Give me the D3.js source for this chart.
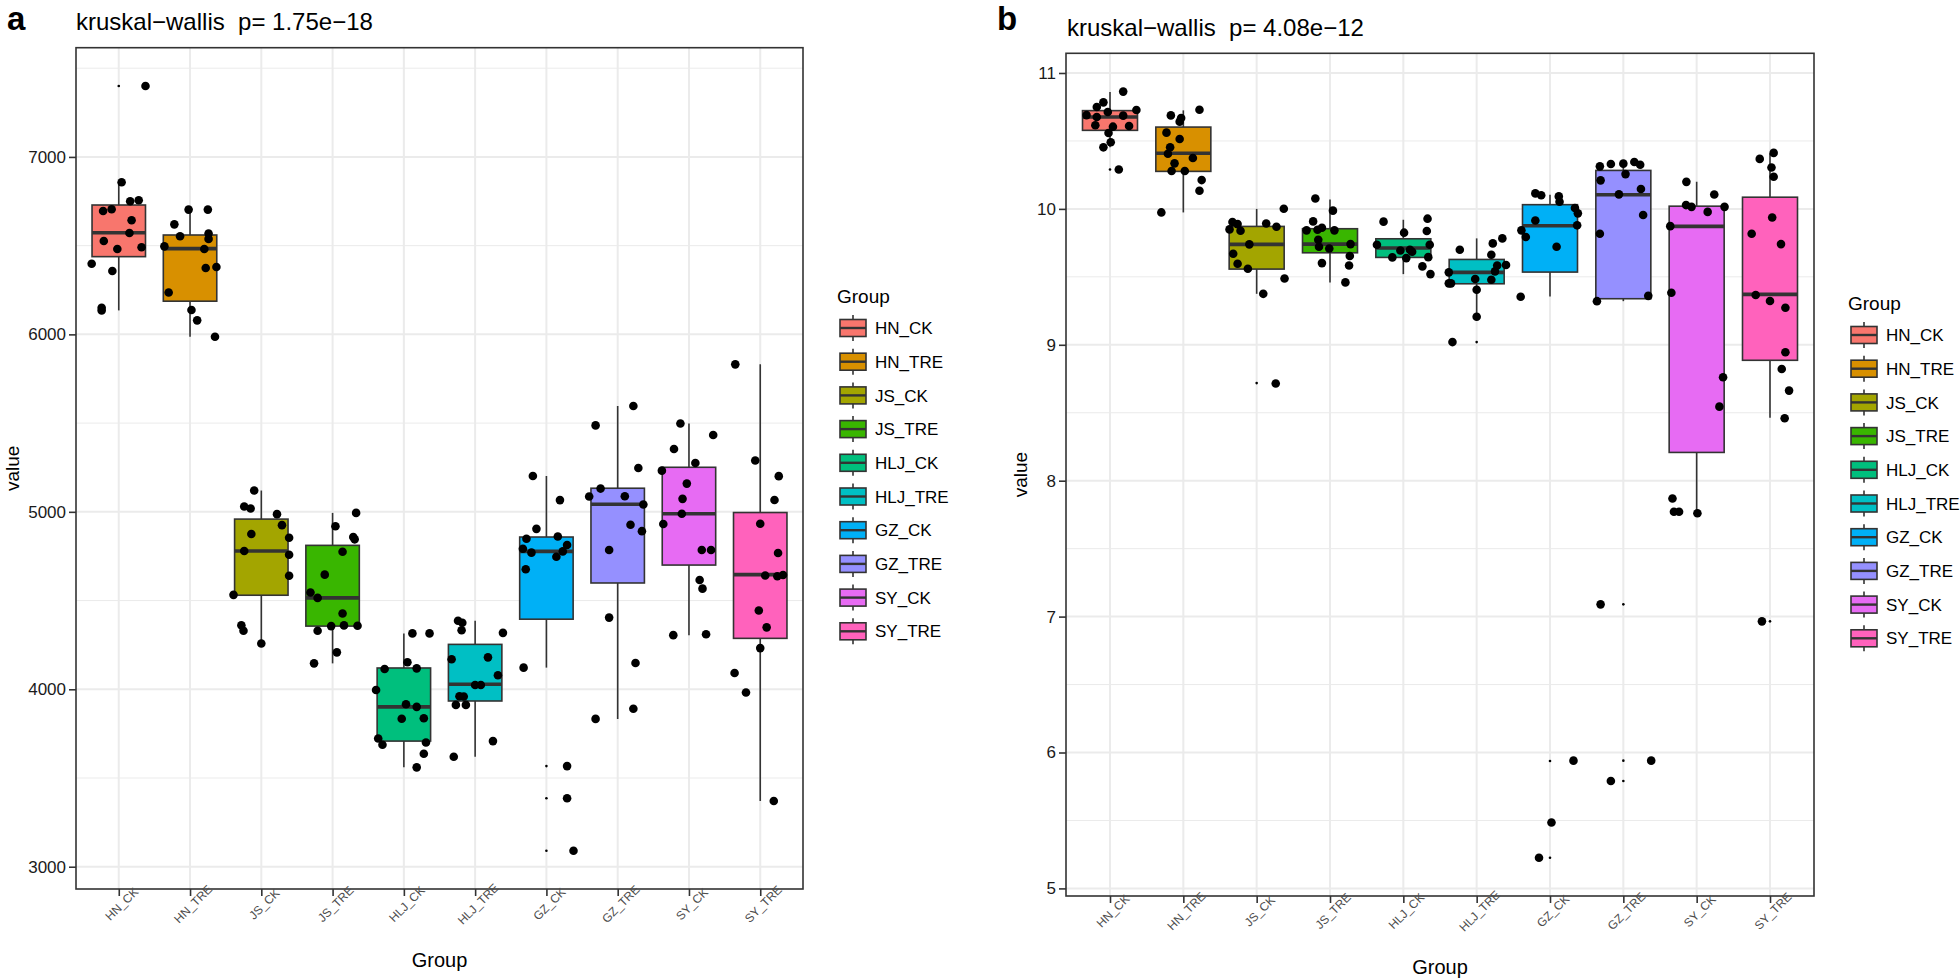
<!DOCTYPE html>
<html>
<head>
<meta charset="utf-8">
<script src="https://cdn.jsdelivr.net/npm/d3@7"></script>
<style>
  html, body { margin: 0; padding: 0; background: #fff; }
  svg { display: block; }
  text { font-family: "Liberation Sans", Arial, sans-serif; white-space: pre; }
</style>
</head>
<body>
<svg id="chart" width="1960" height="980"></svg>
<script>
// ---------------- DATA ----------------
const groups = ["HN_CK","HN_TRE","JS_CK","JS_TRE","HLJ_CK","HLJ_TRE","GZ_CK","GZ_TRE","SY_CK","SY_TRE"];
const groupColors = ["#F8766D","#D89000","#A3A500","#39B600","#00BF7D","#00BFC4","#00B0F6","#9590FF","#E76BF3","#FF62BC"];

const titleA = "kruskal\u2212wallis  p= 1.75e\u221218";
const titleB = "kruskal\u2212wallis  p= 4.08e\u221212";
const ticksA = [3000, 4000, 5000, 6000, 7000];
const ticksB = [5, 6, 7, 8, 9, 10, 11];

// Panel a box statistics (lower whisker, Q1, median, Q3, upper whisker)
const loA  = [6135, 5987, 4258, 4146, 3560, 3620, 4122, 3833, 4305, 3370];
const q1A  = [6438, 6187, 4530, 4356, 3708, 3934, 4395, 4599, 4700, 4287];
const medA = [6573, 6483, 4779, 4515, 3901, 4028, 4777, 5043, 4989, 4646];
const q3A  = [6729, 6560, 4959, 4811, 4120, 4253, 4858, 5133, 5251, 4996];
const hiA  = [6857, 6703, 5120, 4994, 4315, 4386, 5202, 5596, 5498, 5831];
const outA = [[7400], [], [], [], [], [], [3567, 3386, 3090], [], [], []];

// Panel a observations and their jitter (fraction of category step)
const ptsA = [
  [7400, 6857, 6750, 6756, 6695, 6705, 6643, 6571, 6526, 6481, 6491, 6398, 6357, 6150, 6135],
  [6703, 6703, 6620, 6553, 6568, 6538, 6496, 6481, 6374, 6380, 6236, 6137, 6079, 5987],
  [5120, 5030, 5019, 4987, 4925, 4875, 4854, 4779, 4758, 4640, 4532, 4361, 4330, 4258],
  [4994, 4919, 4858, 4845, 4775, 4646, 4545, 4515, 4427, 4330, 4356, 4360, 4358, 4208, 4146],
  [4315, 4315, 4152, 4114, 4118, 3996, 3916, 3901, 3834, 3837, 3723, 3687, 3700, 3637, 3560],
  [4386, 4375, 4333, 4318, 4169, 4180, 4079, 4024, 4024, 3961, 3959, 3912, 3912, 3708, 3620],
  [5202, 5066, 4904, 4848, 4861, 4813, 4792, 4770, 4777, 4747, 4676, 4122, 3567, 3386, 3090],
  [5596, 5487, 5247, 5131, 5086, 5088, 5041, 4927, 4891, 4785, 4404, 4148, 3890, 3833],
  [5498, 5354, 5232, 5275, 5159, 5073, 4989, 4931, 5433, 4785, 4785, 4616, 4567, 4310, 4305],
  [5831, 5289, 5201, 5067, 4933, 4768, 4641, 4637, 4644, 4444, 4349, 4232, 4092, 3982, 3370]
];
const jitA = [
  [0.375, 0.04, 0.16, 0.28, -0.22, -0.10, 0.18, 0.15, -0.21, -0.02, 0.32, -0.38, -0.09, -0.24, -0.24],
  [-0.02, 0.25, -0.22, -0.14, 0.26, 0.26, -0.36, 0.20, 0.22, 0.37, -0.30, 0.02, 0.10, 0.35],
  [-0.10, -0.24, -0.15, 0.22, 0.29, -0.14, 0.39, -0.24, 0.39, 0.39, -0.39, -0.28, -0.25, 0.0],
  [0.33, 0.04, 0.29, 0.31, 0.14, -0.11, -0.31, -0.21, 0.14, -0.21, -0.02, 0.16, 0.35, 0.06, -0.26],
  [0.12, 0.36, 0.05, -0.27, 0.18, -0.39, 0.03, 0.18, -0.03, 0.28, -0.36, -0.30, 0.31, 0.28, 0.18],
  [-0.24, -0.18, -0.19, 0.39, -0.33, 0.18, 0.32, 0.0, 0.08, -0.22, -0.16, -0.27, -0.13, 0.25, -0.30],
  [-0.19, 0.19, -0.14, -0.28, 0.16, 0.29, -0.33, -0.21, 0.23, 0.14, -0.29, -0.32, 0.29, 0.29, 0.38],
  [0.22, -0.31, 0.29, -0.24, -0.40, 0.10, 0.36, 0.18, 0.34, -0.12, -0.12, 0.25, 0.22, -0.31],
  [-0.12, -0.21, -0.38, 0.09, -0.03, -0.09, -0.10, -0.36, 0.34, 0.18, 0.31, 0.15, 0.19, 0.24, -0.22],
  [-0.35, -0.07, 0.26, 0.20, 0.0, 0.25, 0.07, 0.24, 0.32, -0.02, 0.09, 0.0, -0.36, -0.20, 0.19]
];

// Panel b box statistics
const loB  = [10.453, 9.974, 9.375, 9.459, 9.52, 9.206, 9.356, 9.321, 7.761, 8.464];
const q1B  = [10.578, 10.276, 9.557, 9.677, 9.643, 9.449, 9.535, 9.339, 8.208, 8.886];
const medB = [10.676, 10.409, 9.739, 9.741, 9.712, 9.533, 9.876, 10.104, 9.871, 9.371];
const q3B  = [10.723, 10.602, 9.871, 9.854, 9.78, 9.628, 10.031, 10.283, 10.02, 10.086];
const hiB  = [10.86, 10.725, 10.0, 10.07, 9.92, 9.783, 10.104, 10.345, 10.199, 10.41];
const outB = [[10.29], [], [8.718], [], [], [9.02], [5.937, 5.485, 5.226], [7.09, 5.94, 5.79], [], [6.965]];

const ptsB = [
  [10.863, 10.784, 10.75, 10.728, 10.713, 10.69, 10.686, 10.676, 10.615, 10.605, 10.61, 10.558, 10.49, 10.453, 10.29],
  [10.73, 10.688, 10.669, 10.642, 10.561, 10.514, 10.453, 10.406, 10.374, 10.335, 10.279, 10.279, 10.212, 10.134, 9.974],
  [10.001, 9.903, 9.888, 9.849, 9.839, 9.893, 9.869, 9.739, 9.67, 9.596, 9.56, 9.488, 9.375, 8.715],
  [10.077, 9.987, 9.908, 9.842, 9.861, 9.847, 9.842, 9.773, 9.741, 9.721, 9.709, 9.653, 9.601, 9.584, 9.459],
  [9.906, 9.928, 9.837, 9.825, 9.736, 9.736, 9.699, 9.685, 9.694, 9.643, 9.638, 9.645, 9.577, 9.52],
  [9.699, 9.746, 9.783, 9.663, 9.584, 9.587, 9.533, 9.54, 9.452, 9.452, 9.484, 9.479, 9.405, 9.206, 9.02],
  [10.114, 10.1, 10.092, 10.053, 10.006, 9.967, 9.915, 9.842, 9.793, 9.879, 9.721, 9.353, 5.94, 5.485, 5.226],
  [10.313, 10.33, 10.333, 10.345, 10.325, 10.256, 10.21, 10.107, 10.146, 9.955, 9.817, 9.321, 9.36, 7.09, 5.79, 5.94],
  [10.199, 10.106, 10.028, 10.015, 9.978, 10.015, 9.873, 9.383, 8.761, 8.545, 7.869, 7.771, 7.771, 7.761],
  [10.412, 10.368, 10.305, 10.236, 9.937, 9.817, 9.741, 9.366, 9.322, 9.273, 8.945, 8.822, 8.663, 8.46, 6.965]
];
const jitB = [
  [0.18, -0.09, -0.18, 0.36, -0.03, -0.32, 0.18, -0.18, -0.20, 0.04, 0.26, -0.02, 0.01, -0.09, 0.12],
  [0.22, -0.17, -0.03, -0.05, -0.23, -0.05, -0.18, -0.21, 0.13, -0.12, -0.16, 0.02, 0.25, 0.22, -0.30],
  [0.37, -0.33, -0.26, -0.37, -0.22, 0.13, 0.27, -0.10, -0.32, -0.26, -0.12, 0.38, 0.09, 0.26],
  [-0.20, 0.04, -0.23, -0.32, -0.11, -0.17, 0.06, -0.16, 0.28, -0.15, -0.01, 0.27, -0.11, 0.26, 0.21],
  [-0.27, 0.33, 0.32, 0.01, -0.36, 0.36, 0.09, 0.12, -0.04, -0.15, 0.04, 0.34, 0.26, 0.37],
  [-0.23, 0.22, 0.35, 0.20, 0.28, 0.40, -0.38, 0.25, -0.38, -0.35, -0.02, 0.20, 0.0, 0.0, -0.33],
  [-0.20, -0.12, 0.12, 0.13, 0.34, 0.38, -0.20, -0.39, -0.33, 0.37, 0.09, -0.40, 0.32, 0.02, -0.15],
  [-0.32, -0.17, 0.0, 0.15, 0.23, 0.03, -0.31, -0.06, 0.24, 0.27, -0.32, -0.36, 0.34, -0.31, -0.17, 0.38],
  [-0.14, 0.24, -0.145, -0.07, 0.15, 0.38, -0.36, -0.345, 0.36, 0.31, -0.33, -0.31, -0.24, 0.01],
  [0.05, -0.14, 0.02, 0.05, 0.03, -0.25, 0.15, -0.195, 0.0, 0.21, 0.21, 0.16, 0.26, 0.20, -0.11]
];

// ---------------- DRAW ----------------
const svg = d3.select("#chart");
const FONT = '"Liberation Sans", Arial, sans-serif';

function drawPanel(cfg) {
  const g = svg.append("g");
  const { left, right, top, bottom } = cfg;

  const x = d3.scalePoint().domain(groups).range([left, right]).padding(0.6);
  const step = x.step();

  const allVals = cfg.pts.flat().concat(cfg.out.flat(), cfg.lo, cfg.hi);
  const [mn, mx] = d3.extent(allVals);
  const pad = (mx - mn) * 0.05;
  const y = d3.scaleLinear().domain([mn - pad, mx + pad]).range([bottom, top]);

  g.append("rect").attr("x", left).attr("y", top).attr("width", right - left).attr("height", bottom - top).attr("fill", "#fff");

  // minor gridlines
  const minor = [];
  const tstep = cfg.ticks[1] - cfg.ticks[0];
  for (let i = 0; i < cfg.ticks.length + 1; i++) {
    const v = cfg.ticks[0] - tstep / 2 + i * tstep;
    if (v > y.domain()[0] && v < y.domain()[1]) minor.push(v);
  }
  g.append("g").selectAll("line").data(minor).join("line")
    .attr("x1", left).attr("x2", right)
    .attr("y1", d => y(d)).attr("y2", d => y(d))
    .attr("stroke", "#EBEBEB").attr("stroke-width", 1);
  // major gridlines
  g.append("g").selectAll("line").data(cfg.ticks).join("line")
    .attr("x1", left).attr("x2", right)
    .attr("y1", d => y(d)).attr("y2", d => y(d))
    .attr("stroke", "#EBEBEB").attr("stroke-width", 2);
  g.append("g").selectAll("line").data(groups).join("line")
    .attr("x1", d => x(d)).attr("x2", d => x(d))
    .attr("y1", top).attr("y2", bottom)
    .attr("stroke", "#EBEBEB").attr("stroke-width", 2);

  const bw = step * 0.75;
  const boxes = g.append("g").selectAll("g").data(groups).join("g");
  boxes.append("line")
    .attr("x1", d => x(d)).attr("x2", d => x(d))
    .attr("y1", (d, i) => y(cfg.lo[i])).attr("y2", (d, i) => y(cfg.hi[i]))
    .attr("stroke", "#333333").attr("stroke-width", 1.6);
  boxes.append("rect")
    .attr("x", d => x(d) - bw / 2).attr("width", bw)
    .attr("y", (d, i) => y(cfg.q3[i])).attr("height", (d, i) => y(cfg.q1[i]) - y(cfg.q3[i]))
    .attr("fill", (d, i) => groupColors[i])
    .attr("stroke", "#333333").attr("stroke-width", 1.6);
  boxes.append("line")
    .attr("x1", d => x(d) - bw / 2).attr("x2", d => x(d) + bw / 2)
    .attr("y1", (d, i) => y(cfg.med[i])).attr("y2", (d, i) => y(cfg.med[i]))
    .attr("stroke", "#333333").attr("stroke-width", 3.6);
  const outs = [];
  cfg.out.forEach((arr, i) => arr.forEach(v => outs.push({ g: groups[i], v })));
  g.append("g").selectAll("circle").data(outs).join("circle")
    .attr("cx", d => x(d.g)).attr("cy", d => y(d.v)).attr("r", 1.3).attr("fill", "#000");

  const pts = [];
  cfg.pts.forEach((arr, i) => arr.forEach((v, j) => pts.push({ g: groups[i], v, j: cfg.jit[i][j] })));
  g.append("g").selectAll("circle").data(pts).join("circle")
    .attr("cx", d => x(d.g) + d.j * step).attr("cy", d => y(d.v)).attr("r", 4.3).attr("fill", "#000");

  g.append("rect").attr("x", left).attr("y", top).attr("width", right - left).attr("height", bottom - top)
    .attr("fill", "none").attr("stroke", "#333333").attr("stroke-width", 1.6);

  const ya = g.append("g").attr("transform", `translate(${left},0)`)
    .call(d3.axisLeft(y).tickValues(cfg.ticks).tickSize(7).tickPadding(3).tickFormat(d => String(d)));
  ya.select(".domain").remove();
  ya.selectAll(".tick line").attr("stroke", "#333333").attr("stroke-width", 1.6);
  ya.selectAll(".tick text").attr("font-family", FONT).attr("font-size", 17).attr("fill", "#1a1a1a");

  const xa = g.append("g").attr("transform", `translate(0,${bottom})`)
    .call(d3.axisBottom(x).tickSize(7).tickFormat(""));
  xa.select(".domain").remove();
  xa.selectAll(".tick line").attr("stroke", "#333333").attr("stroke-width", 1.6);
  g.append("g").selectAll("text").data(groups).join("text")
    .attr("transform", d => `translate(${x(d) + 3},${bottom + 15}) rotate(-45)`)
    .attr("text-anchor", "middle").attr("dy", "0.35em")
    .attr("font-family", FONT).attr("font-size", 12).attr("fill", "#4D4D4D")
    .text(d => d);

  g.append("text").attr("x", (left + right) / 2).attr("y", cfg.xTitleY)
    .attr("text-anchor", "middle").attr("font-family", FONT).attr("font-size", 20).attr("fill", "#000")
    .text("Group");
  g.append("text").attr("transform", `translate(${cfg.yTitleX},${(top + bottom) / 2}) rotate(-90)`)
    .attr("text-anchor", "middle").attr("font-family", FONT).attr("font-size", 19).attr("fill", "#000")
    .text("value");

  g.append("text").attr("x", cfg.titleX).attr("y", cfg.titleY)
    .attr("font-family", FONT).attr("font-size", 24).attr("fill", "#000").text(cfg.title);
  g.append("text").attr("x", cfg.tagX).attr("y", cfg.tagY)
    .attr("font-family", '"Liberation Serif", "Times New Roman", serif').attr("font-weight", "bold")
    .attr("font-size", 33).attr("fill", "#000").text(cfg.tag);

  const lg = g.append("g");
  lg.append("text").attr("x", cfg.legX - 3).attr("y", cfg.legTitleY)
    .attr("font-family", FONT).attr("font-size", 19).attr("fill", "#000").text("Group");
  const items = lg.selectAll("g.item").data(groups).join("g").attr("class", "item")
    .attr("transform", (d, i) => `translate(${cfg.legX},${cfg.legY0 + i * cfg.legStep})`);
  items.append("line").attr("x1", 13).attr("x2", 13).attr("y1", -13).attr("y2", 13)
    .attr("stroke", "#333333").attr("stroke-width", 1.6);
  items.append("rect").attr("x", 0).attr("y", -8.5).attr("width", 26).attr("height", 17)
    .attr("fill", (d, i) => groupColors[i]).attr("stroke", "#333333").attr("stroke-width", 1.6);
  items.append("line").attr("x1", 0).attr("x2", 26).attr("y1", 0).attr("y2", 0)
    .attr("stroke", "#333333").attr("stroke-width", 2.4);
  items.append("text").attr("x", 35).attr("y", 0).attr("dy", "0.36em")
    .attr("font-family", FONT).attr("font-size", 17).attr("fill", "#000").text(d => d);
}

drawPanel({
  left: 76, right: 803, top: 47.7, bottom: 889,
  ticks: ticksA, lo: loA, q1: q1A, med: medA, q3: q3A, hi: hiA, out: outA, pts: ptsA, jit: jitA,
  title: titleA, titleX: 76, titleY: 30, tag: "a", tagX: 7, tagY: 30,
  xTitleY: 967, yTitleX: 19,
  legX: 840, legTitleY: 303, legY0: 328, legStep: 33.7
});
drawPanel({
  left: 1066, right: 1814, top: 53.3, bottom: 896,
  ticks: ticksB, lo: loB, q1: q1B, med: medB, q3: q3B, hi: hiB, out: outB, pts: ptsB, jit: jitB,
  title: titleB, titleX: 1067, titleY: 36, tag: "b", tagX: 997, tagY: 30,
  xTitleY: 974, yTitleX: 1027,
  legX: 1851, legTitleY: 310, legY0: 335, legStep: 33.7
});
</script>
</body>
</html>
